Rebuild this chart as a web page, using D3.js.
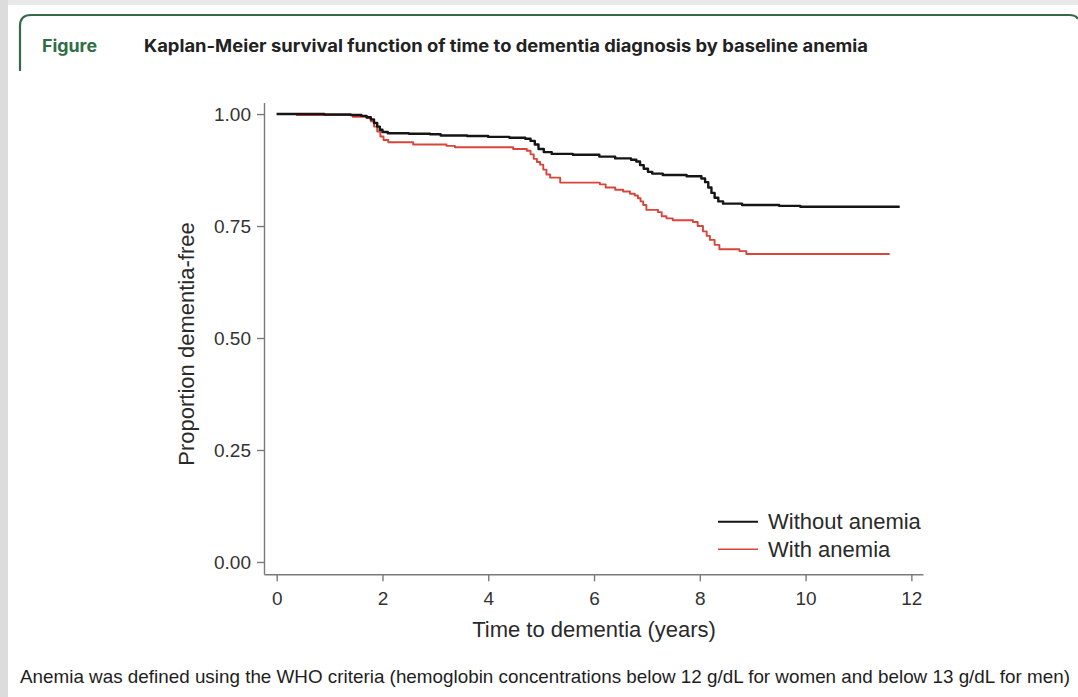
<!DOCTYPE html>
<html>
<head>
<meta charset="utf-8">
<script src="https://cdn.jsdelivr.net/npm/d3@7/dist/d3.min.js"></script>
<style>
  html, body { margin: 0; padding: 0; background: #fff; }
  svg { display: block; }
</style>
</head>
<body>
<svg id="chart" width="1078" height="697"></svg>
<script>
// Kaplan-Meier estimates: follow-up time (years) and proportion dementia-free
const timesWithout = [0, 0.9, 1.4, 1.6, 1.7, 1.78, 1.84, 1.9, 1.95, 2.0, 2.1, 2.5, 2.9, 3.1, 3.6, 4.0, 4.4, 4.7, 4.8, 4.88, 4.95, 5.05, 5.2, 5.6, 6.1, 6.4, 6.7, 6.8, 6.87, 6.94, 7.02, 7.1, 7.3, 7.75, 8.03, 8.1, 8.16, 8.22, 8.28, 8.35, 8.44, 8.8, 9.5, 9.9, 11.78];
const survWithout  = [1.000, 0.999, 0.998, 0.996, 0.993, 0.988, 0.980, 0.972, 0.965, 0.960, 0.957, 0.956, 0.955, 0.952, 0.951, 0.949, 0.947, 0.945, 0.940, 0.932, 0.922, 0.915, 0.911, 0.909, 0.905, 0.901, 0.898, 0.894, 0.886, 0.878, 0.871, 0.867, 0.864, 0.861, 0.856, 0.848, 0.836, 0.824, 0.813, 0.805, 0.800, 0.797, 0.795, 0.793, 0.793];

const timesWith = [0, 0.38, 1.44, 1.70, 1.78, 1.84, 1.90, 1.96, 2.02, 2.11, 2.58, 3.21, 3.37, 4.47, 4.73, 4.80, 4.86, 4.92, 4.98, 5.04, 5.10, 5.17, 5.36, 6.11, 6.22, 6.40, 6.55, 6.68, 6.77, 6.83, 6.88, 6.93, 6.99, 7.21, 7.28, 7.37, 7.49, 7.87, 7.96, 8.06, 8.13, 8.19, 8.28, 8.37, 8.75, 8.88, 11.59];
const survWith  = [1.000, 0.998, 0.994, 0.991, 0.984, 0.972, 0.961, 0.950, 0.942, 0.937, 0.932, 0.929, 0.926, 0.922, 0.918, 0.910, 0.900, 0.893, 0.887, 0.876, 0.865, 0.858, 0.847, 0.843, 0.836, 0.831, 0.827, 0.822, 0.818, 0.812, 0.805, 0.797, 0.786, 0.781, 0.772, 0.767, 0.763, 0.759, 0.750, 0.738, 0.728, 0.719, 0.708, 0.698, 0.694, 0.6875, 0.6875];

const xTicks = [0, 2, 4, 6, 8, 10, 12];
const yTicks = [0, 0.25, 0.5, 0.75, 1.0];
const seriesNames = ["Without anemia", "With anemia"];
const figureLabel = "Figure";
const titleText = "Kaplan-Meier survival function of time to dementia diagnosis by baseline anemia";
const xTitle = "Time to dementia (years)";
const yTitle = "Proportion dementia-free";
const noteText = "Anemia was defined using the WHO criteria (hemoglobin concentrations below 12 g/dL for women and below 13 g/dL for men)";

const svg = d3.select("#chart");
const tickFont = "'Liberation Sans', Arial, Helvetica, sans-serif";
const headFont = "Inter, Lato, 'Open Sans', sans-serif";
const green = "#35694a";

// page background strips
svg.append("rect").attr("x", 0).attr("y", 0).attr("width", 1078).attr("height", 5).attr("fill", "#e9e9e9");
svg.append("rect").attr("x", 0).attr("y", 0).attr("width", 8).attr("height", 697).attr("fill", "#dcdcdc");

// figure frame
svg.append("path")
  .attr("d", "M20,71 L20,26 Q20,15 31,15 L1069,15 Q1076,15 1078,19")
  .attr("fill", "none").attr("stroke", green).attr("stroke-width", 2.2);

// header
svg.append("text").attr("x", 42).attr("y", 51.5)
  .attr("font-family", headFont).attr("font-weight", 700)
  .attr("font-size", 17).attr("fill", "#2f6d46")
  .attr("textLength", 55).attr("lengthAdjust", "spacingAndGlyphs")
  .text(figureLabel);
svg.append("text").attr("x", 144).attr("y", 51.5)
  .attr("font-family", headFont).attr("font-weight", 700)
  .attr("font-size", 17).attr("fill", "#222")
  .attr("textLength", 724).attr("lengthAdjust", "spacingAndGlyphs")
  .text(titleText);

// scales
const x = d3.scaleLinear().domain([-0.24, 12.22]).range([264, 923]);
const y = d3.scaleLinear().domain([-0.0275, 1.026]).range([574.3, 102.4]);

// axes
const xAxis = svg.append("g").attr("transform", "translate(0,574.3)")
  .call(d3.axisBottom(x).tickValues(xTicks).tickFormat(d3.format("d"))
    .tickSize(7).tickSizeOuter(0).tickPadding(10));
const yAxis = svg.append("g").attr("transform", "translate(264,0)")
  .call(d3.axisLeft(y).tickValues(yTicks).tickFormat(d3.format(".2f"))
    .tickSize(7).tickSizeOuter(0).tickPadding(6));
[xAxis, yAxis].forEach(g => {
  g.selectAll("path, line").attr("stroke", "#7a7a7a").attr("stroke-width", 1.4);
  g.selectAll("text").attr("font-family", tickFont).attr("font-size", 19).attr("fill", "#333");
});

// axis titles
svg.append("text").attr("x", (x(0) + x(12)) / 2).attr("y", 637)
  .attr("text-anchor", "middle").attr("font-family", tickFont)
  .attr("font-size", 22).attr("fill", "#2a2a2a").text(xTitle);
svg.append("text").attr("transform", "translate(194,344) rotate(-90)")
  .attr("text-anchor", "middle").attr("font-family", tickFont)
  .attr("font-size", 22).attr("fill", "#2a2a2a").text(yTitle);

// survival curves
const line = d3.line().x(d => x(d[0])).y(d => y(d[1])).curve(d3.curveStepAfter);
const series = [
  { name: seriesNames[0], pts: d3.zip(timesWithout, survWithout), color: "#151515", width: 2.4 },
  { name: seriesNames[1], pts: d3.zip(timesWith, survWith), color: "#d9453b", width: 1.9 }
];
svg.append("g").selectAll("path").data(series.slice().reverse()).join("path")
  .attr("d", d => line(d.pts)).attr("fill", "none")
  .attr("stroke", d => d.color).attr("stroke-width", d => d.width)
  .attr("stroke-linejoin", "round");

// legend
const legend = svg.append("g").attr("transform", "translate(718,521.7)");
const items = legend.selectAll("g").data(series).join("g")
  .attr("transform", (d, i) => `translate(0,${i * 27.6})`);
items.append("line").attr("x1", 0).attr("x2", 40).attr("y1", 0).attr("y2", 0)
  .attr("stroke", d => d.color).attr("stroke-width", d => d.width * 0.85);
items.append("text").attr("x", 50).attr("y", 7.5)
  .attr("font-family", tickFont).attr("font-size", 22).attr("fill", "#2a2a2a")
  .text(d => d.name);

// footnote
svg.append("text").attr("x", 20).attr("y", 683)
  .attr("font-family", tickFont).attr("font-size", 19).attr("fill", "#1e1e1e")
  .attr("textLength", 1050).attr("lengthAdjust", "spacingAndGlyphs")
  .text(noteText);
</script>
</body>
</html>
